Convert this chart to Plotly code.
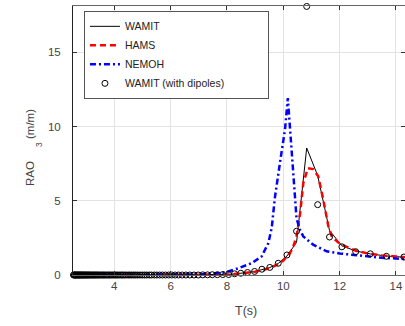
import plotly.graph_objects as go

# Wave periods (s) of the WAMIT frequency grid
period_wamit = [
    2.55, 2.58, 2.60, 2.62, 2.64, 2.66, 2.69, 2.71, 2.73, 2.76, 2.78, 2.80,
    2.83, 2.86, 2.88, 2.91, 2.94, 2.96, 2.99, 3.02, 3.05, 3.08, 3.11, 3.14,
    3.17, 3.21, 3.24, 3.27, 3.31, 3.34, 3.38, 3.41, 3.45, 3.49, 3.53, 3.57,
    3.61, 3.65, 3.70, 3.74, 3.79, 3.83, 3.88, 3.93, 3.98, 4.03, 4.08, 4.13,
    4.19, 4.25, 4.30, 4.36, 4.42, 4.49, 4.55, 4.62, 4.69, 4.76, 4.83, 4.91,
    4.99, 5.07, 5.15, 5.24, 5.32, 5.42, 5.51, 5.61, 5.71, 5.82, 5.93, 6.04,
    6.16, 6.28, 6.41, 6.54, 6.68, 6.83, 6.98, 7.14, 7.31, 7.48, 7.66, 7.85,
    8.06, 8.27, 8.49, 8.73, 8.98, 9.24, 9.52, 9.82, 10.13, 10.47, 10.83,
    11.22, 11.64, 12.08, 12.57, 13.09, 13.66, 14.28,
]

# Heave RAO (m/m), WAMIT without dipoles
rao_wamit = [0.0] * 79 + [
    0.01, 0.01, 0.02, 0.02, 0.03,
    0.04, 0.07, 0.11, 0.16, 0.23, 0.36, 0.50, 0.78, 1.28, 2.20, 8.56,
    6.70, 3.00, 1.97, 1.62, 1.42, 1.28, 1.20,
]

# Heave RAO (m/m), WAMIT with dipoles
rao_wamit_dipoles = [0.0] * 79 + [
    0.01, 0.01, 0.02, 0.02, 0.03,
    0.03, 0.08, 0.12, 0.17, 0.24, 0.39, 0.51, 0.79, 1.35, 2.95, 18.1,
    4.74, 2.56, 1.90, 1.57, 1.43, 1.26, 1.21,
]

# HAMS
period_hams = [
    2.55, 3.0, 3.5, 4.0, 4.5, 5.0, 5.5, 6.0, 6.5, 7.0, 7.5, 8.0, 8.25, 8.5,
    8.75, 9.0, 9.25, 9.5, 9.75, 10.0, 10.24, 10.35, 10.47, 10.6, 10.71,
    10.87, 11.06, 11.24, 11.42, 11.6, 11.72, 12.0, 12.25, 12.6, 13.0, 13.5,
    14.0, 14.35,
]
rao_hams = [
    0.0, 0.0, 0.0, 0.0, 0.0, 0.0, 0.0, 0.0, 0.01, 0.01, 0.02, 0.03, 0.06, 0.10,
    0.15, 0.22, 0.32, 0.46, 0.66, 0.98, 1.48, 1.90, 2.60, 4.20, 6.20,
    7.20, 7.14, 6.65, 5.07, 3.28, 2.60, 2.10, 1.90, 1.62, 1.45, 1.32,
    1.25, 1.20,
]

# NEMOH
period_nemoh = [
    2.55, 3.0, 4.0, 5.0, 6.0, 6.5, 7.0, 7.5, 7.94, 8.4, 8.88, 9.23, 9.47,
    9.59, 9.7, 9.88, 10.0, 10.06, 10.16, 10.24, 10.27, 10.35, 10.47, 10.6,
    10.71, 11.06, 11.54, 12.0, 12.37, 12.84, 13.5, 14.32,
]
rao_nemoh = [
    0.0, 0.0, 0.0, 0.0, 0.01, 0.02, 0.04, 0.09, 0.18, 0.45, 0.80, 1.25, 2.15,
    3.20, 5.20, 7.55, 8.90, 9.80, 11.93, 9.80, 8.44, 6.40, 3.80, 3.00,
    2.60, 2.04, 1.60, 1.45, 1.37, 1.26, 1.16, 1.08,
]

x_ticks = [4, 6, 8, 10, 12, 14]
y_ticks = [0, 5, 10, 15]

FONT = "Liberation Sans, Arial, sans-serif"
PAD = "\u00a0" * 13  # widens the legend box

fig = go.Figure()
fig.add_trace(go.Scatter(
    x=period_wamit, y=rao_wamit, name="WAMIT", mode="lines",
    line=dict(color="black", width=1),
))
fig.add_trace(go.Scatter(
    x=period_hams, y=rao_hams, name="HAMS", mode="lines",
    line=dict(color="#ff0000", width=2.5, dash="6px,4px"),
))
fig.add_trace(go.Scatter(
    x=period_nemoh, y=rao_nemoh, name="NEMOH", mode="lines",
    line=dict(color="#0000ff", width=2.5, dash="6px,3px,2px,3px"),
))
fig.add_trace(go.Scatter(
    x=period_wamit, y=rao_wamit_dipoles, name="WAMIT (with dipoles)" + PAD,
    mode="markers", cliponaxis=False,
    marker=dict(symbol="circle-open", size=6, color="black",
                line=dict(width=1, color="black")),
))

axis_common = dict(
    showgrid=True, gridcolor="#e3e3e3", gridwidth=1,
    ticks="inside", ticklen=4, tickcolor="#333",
    tickfont=dict(family=FONT, size=11.5, color="#444"),
    zeroline=False, showline=True, mirror="ticks",
)

fig.update_layout(
    width=405, height=326,
    margin=dict(l=73, r=0, t=6, b=51),
    paper_bgcolor="white", plot_bgcolor="white",
    font=dict(family=FONT),
    xaxis=dict(range=[2.534, 14.32], tickvals=x_ticks,
               linecolor="#666", linewidth=1.3, **axis_common),
    yaxis=dict(range=[0, 18.13], tickvals=y_ticks,
               linecolor="#222", linewidth=1, ticklabelstandoff=9,
               **axis_common),
    showlegend=True,
    legend=dict(
        x=0.033, y=0.982, xanchor="left", yanchor="top",
        bgcolor="white", bordercolor="#555", borderwidth=1,
        font=dict(family=FONT, size=10.5, color="#222"),
    ),
)

# Axis titles
ax_font = dict(family=FONT, size=11.5, color="#444")
fig.add_annotation(text="RAO", x=29.5, y=173.5, textangle=-90,
                   xref="paper", yref="paper", showarrow=False, font=ax_font)
fig.add_annotation(text="(m/m)", x=29.5, y=124.5, textangle=-90,
                   xref="paper", yref="paper", showarrow=False, font=ax_font)
fig.add_annotation(text="3", x=39, y=145, textangle=-90,
                   xref="paper", yref="paper", showarrow=False,
                   font=dict(family=FONT, size=8.5, color="#444"))
fig.add_annotation(text="T(s)", x=245.8, y=311,
                   xref="paper", yref="paper", showarrow=False,
                   font=dict(family=FONT, size=12.5, color="#444"))

# convert pixel placements of titles to paper fractions
for a in fig.layout.annotations:
    a.x = (a.x - 73) / 332
    a.y = (275 - a.y) / 269
    a.xanchor = "center"
    a.yanchor = "middle"

fig.write_html("out.html")
